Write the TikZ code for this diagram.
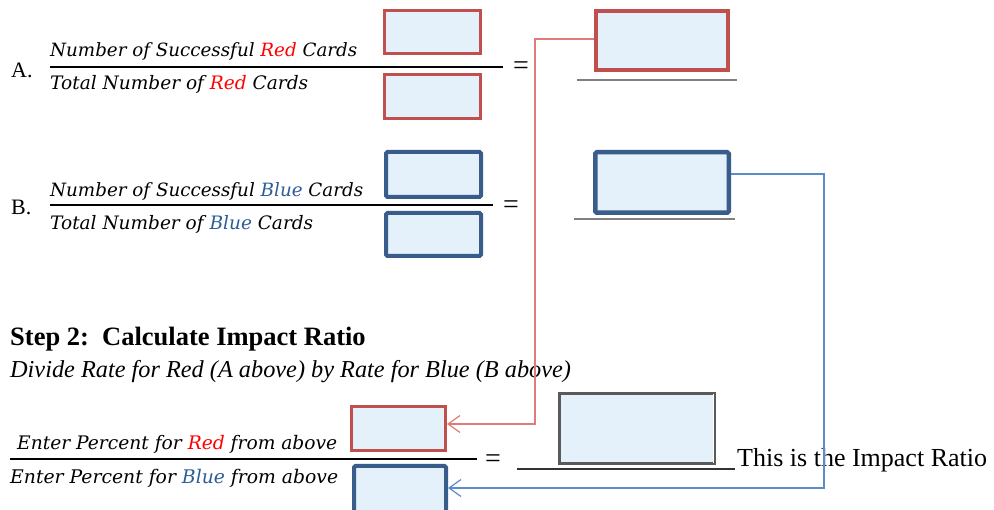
\documentclass[tikz,border=0pt]{standalone}
\usepackage{fontspec}
\setmainfont{Liberation Serif}
\newfontfamily\cmb{DejaVu Serif}
\usetikzlibrary{arrows.meta}
\definecolor{rbord}{HTML}{C0504D}
\definecolor{bbord}{HTML}{385D8A}
\definecolor{boxfill}{HTML}{E4F0FA}
\definecolor{redtxt}{HTML}{FF0000}
\definecolor{bluetxt}{HTML}{2E5C96}
\definecolor{rline}{HTML}{E07B78}
\definecolor{bline}{HTML}{5B8BC9}
\definecolor{gbord}{HTML}{5A5A5A}
\definecolor{uline}{HTML}{808080}
\newcommand{\fw}[2]{\resizebox{#1}{!}{\cmb\itshape #2}}
\newcommand{\R}{\textcolor{redtxt}{Red}}
\newcommand{\B}{\textcolor{bluetxt}{Blue}}
\tikzset{
  redbox/.style={draw=rbord, fill=boxfill, line width=3pt, inner sep=0pt},
  bluebox/.style={draw=bbord, fill=boxfill, line width=4pt, inner sep=0pt, rounded corners=1.5pt},
  graybox/.style={draw=gbord, fill=boxfill, line width=3pt, inner sep=0pt},
  txt/.style={anchor=base west, inner sep=0pt},
  eqsign/.style={anchor=center, inner sep=0pt, font=\fontsize{28}{28}\selectfont},
  fracline/.style={line width=2pt, black},
  resline/.style={line width=2pt, uline},
  rconn/.style={draw=rline, line width=1.2pt, -{Straight Barb[length=12pt,width=17pt,line width=1.2pt]}},
  bconn/.style={draw=bline, line width=1.2pt, -{Straight Barb[length=12pt,width=17pt,line width=1.2pt]}},
}
\begin{document}
\begin{tikzpicture}[x=1pt,y=-1pt]
\useasboundingbox (0,0) rectangle (994,510);
% ---------- A ----------
\node[txt, font=\fontsize{22}{22}\selectfont] (lA) at (11,78) {A.};
\node[txt] (nA) at (50,57) {\fw{307pt}{Number of Successful \R{} Cards}};
\node[txt] (dA) at (50,90) {\fw{258pt}{Total Number of \R{} Cards}};
\draw[fracline] (50,67) coordinate (fA1) -- (503,67) coordinate (fA2);
\node[redbox, minimum width=96pt, minimum height=43pt] (aT) at (432.5,32) {};
\node[redbox, minimum width=96pt, minimum height=44pt] (aB) at (432.5,96.5) {};
\node[eqsign] (eqA) at (521,68) {=};
\node[redbox, line width=4pt, minimum width=132pt, minimum height=59pt] (resA) at (662,40.5) {};
\draw[resline] (577,80) coordinate (uA1) -- (737,80) coordinate (uA2);
% ---------- B ----------
\node[txt, font=\fontsize{22}{22}\selectfont] (lB) at (11,215) {B.};
\node[txt] (nB) at (50,197) {\fw{313pt}{Number of Successful \B{} Cards}};
\node[txt] (dB) at (50,230) {\fw{263pt}{Total Number of \B{} Cards}};
\draw[line width=1.5pt] (50,205) coordinate (fB1) -- (493,205) coordinate (fB2);
\node[bluebox, minimum width=95pt, minimum height=45pt] (bT) at (433.5,174.5) {};
\node[bluebox, minimum width=95pt, minimum height=43pt] (bB) at (433.5,234.5) {};
\node[eqsign] (eqB) at (511,207) {=};
\node[bluebox, line width=4.5pt, minimum width=133.5pt, minimum height=60.5pt] (resB) at (662,182.5) {};
\draw[resline] (574,219) coordinate (uB1) -- (735,219) coordinate (uB2);
% ---------- Step 2 ----------
\node[txt, font=\fontsize{26.5}{26.5}\selectfont\bfseries] (h2) at (10,346) {Step 2:\ \ Calculate Impact Ratio};
\node[txt, font=\fontsize{24.3}{24.3}\selectfont\itshape] (sub) at (10,378) {Divide Rate for Red (A above) by Rate for Blue (B above)};
\node[txt] (nC) at (17,450) {\fw{320pt}{Enter Percent for \R{} from above}};
\node[txt] (dC) at (10,483) {\fw{328pt}{Enter Percent for \B{} from above}};
\draw[fracline] (10,459) coordinate (fC1) -- (477,459) coordinate (fC2);
\node[redbox, minimum width=94pt, minimum height=44pt] (cT) at (398.5,428.5) {};
\node[bluebox, minimum width=92pt, minimum height=52pt] (cB) at (400,492) {};
\node[eqsign] (eqC) at (493,461) {=};
\node[graybox, minimum width=155pt, minimum height=70pt] (res) at (637,428.5) {};
\draw[white, line width=1.5pt] ([xshift=-2.5pt,yshift=2pt]res.south east) -- ([xshift=-2.5pt,yshift=-2pt]res.north east);
\draw[line width=1.2pt, black!80] (517,469) coordinate (uC1) -- (735,469) coordinate (uC2);
\node[txt, font=\fontsize{26}{26}\selectfont] (imp) at (737,467) {This is the Impact Ratio};
% ---------- connectors ----------
\coordinate (rturn) at (535,0);
\coordinate (bturn) at (824,0);
\coordinate (rstart) at ([yshift=1.5pt]resA.west);
\coordinate (rend) at ([yshift=4.5pt]cT.east);
\coordinate (bstart) at ([yshift=8.5pt]resB.east);
\coordinate (bend) at ([yshift=4pt]cB.east);
\draw[rconn] (rstart) -| (rturn |- rend) -- (rend);
\draw[bconn] (bstart) -| (bturn |- bend) -- (bend);
\end{tikzpicture}
\end{document}
